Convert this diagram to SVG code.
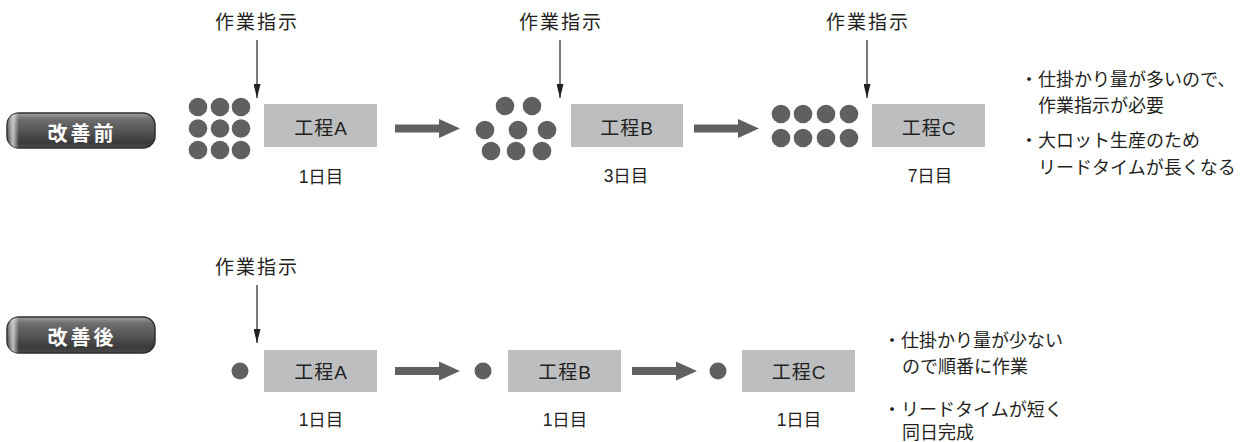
<svg xmlns="http://www.w3.org/2000/svg" width="1243" height="442" viewBox="0 0 1243 442">
  <defs>
    <style>
      text { font-family: 'Liberation Sans', 'Noto Sans CJK JP', sans-serif; fill: #231f20; }
      .lbl { font-size: 19px; letter-spacing: 2px; text-anchor: middle; }
      .box { fill: #bcbec0; }
      .boxtxt { font-size: 19px; letter-spacing: 1px; text-anchor: middle; }
      .day { font-size: 17.5px; text-anchor: middle; }
      .dot { fill: #606060; }
      .note { font-size: 18px; }
      .btntxt { font-size: 20px; font-weight: bold; fill: #ffffff; letter-spacing: 3px; text-anchor: middle; }
      .vline { stroke: #231f20; stroke-width: 1.2; fill: none; }
      .bigarrow { fill: #606060; }
    </style>
    <marker id="ah" markerUnits="userSpaceOnUse" markerWidth="14" markerHeight="7" refX="14" refY="3.5" orient="auto" viewBox="0 0 14 7">
      <path d="M0,0 L14,3.5 L0,7 Z" fill="#231f20"/>
    </marker>
    <linearGradient id="btnV" x1="0" y1="0" x2="0" y2="1">
      <stop offset="0" stop-color="#a0a0a0"/>
      <stop offset="0.18" stop-color="#6e6e6e"/>
      <stop offset="0.55" stop-color="#525252"/>
      <stop offset="0.85" stop-color="#3a3a3a"/>
      <stop offset="1" stop-color="#4a4a4a"/>
    </linearGradient>
    <linearGradient id="btnH" x1="0" y1="0" x2="1" y2="0">
      <stop offset="0" stop-color="#ffffff" stop-opacity="0"/>
      <stop offset="0.04" stop-color="#e8e8e8" stop-opacity="0.75"/>
      <stop offset="0.08" stop-color="#ffffff" stop-opacity="0"/>
      <stop offset="1" stop-color="#ffffff" stop-opacity="0"/>
    </linearGradient>
    <path id="bigArrowShape" d="M0,-4 L44,-4 L44,-9.5 L65,0 L44,9.5 L44,4 L0,4 Z"/>
  </defs>

  <rect x="0" y="0" width="1243" height="442" fill="#ffffff"/>

  <!-- Buttons -->
  <g id="btn-before">
    <rect x="7" y="113" width="148" height="35" rx="12" ry="12" fill="url(#btnV)" stroke="#2e2e2e" stroke-width="1.5"/>
    <rect x="7" y="113" width="148" height="35" rx="12" ry="12" fill="url(#btnH)"/>
    <text class="btntxt" x="82" y="140.5">改善前</text>
  </g>
  <g id="btn-after">
    <rect x="7" y="317" width="148" height="36" rx="12" ry="12" fill="url(#btnV)" stroke="#2e2e2e" stroke-width="1.5"/>
    <rect x="7" y="317" width="148" height="36" rx="12" ry="12" fill="url(#btnH)"/>
    <text class="btntxt" x="82" y="344.5">改善後</text>
  </g>

  <!-- Instruction labels -->
  <g id="instr-top-a"><text class="lbl" x="257" y="29">作業指示</text></g>
  <g id="instr-top-b"><text class="lbl" x="561" y="29">作業指示</text></g>
  <g id="instr-top-c"><text class="lbl" x="868" y="29">作業指示</text></g>
  <g id="instr-bot-a"><text class="lbl" x="257" y="274">作業指示</text></g>

  <!-- Top row WIP dots -->
  <g id="wip-top-a">
    <circle class="dot" cx="198" cy="107" r="9.3"/>
    <circle class="dot" cx="220" cy="107" r="9.3"/>
    <circle class="dot" cx="241" cy="107" r="9.3"/>
    <circle class="dot" cx="198" cy="128.5" r="9.3"/>
    <circle class="dot" cx="220" cy="128.5" r="9.3"/>
    <circle class="dot" cx="241" cy="128.5" r="9.3"/>
    <circle class="dot" cx="198" cy="150" r="9.3"/>
    <circle class="dot" cx="220" cy="150" r="9.3"/>
    <circle class="dot" cx="241" cy="150" r="9.3"/>
  </g>
  <g id="wip-top-b">
    <circle class="dot" cx="505" cy="106" r="9.3"/>
    <circle class="dot" cx="532" cy="106" r="9.3"/>
    <circle class="dot" cx="485" cy="130" r="9.3"/>
    <circle class="dot" cx="518" cy="130" r="9.3"/>
    <circle class="dot" cx="547" cy="130" r="9.3"/>
    <circle class="dot" cx="491" cy="151" r="9.3"/>
    <circle class="dot" cx="516" cy="151" r="9.3"/>
    <circle class="dot" cx="542" cy="151" r="9.3"/>
  </g>
  <g id="wip-top-c">
    <circle class="dot" cx="781" cy="114" r="9.3"/>
    <circle class="dot" cx="803" cy="114" r="9.3"/>
    <circle class="dot" cx="826" cy="114" r="9.3"/>
    <circle class="dot" cx="849" cy="114" r="9.3"/>
    <circle class="dot" cx="781" cy="138" r="9.3"/>
    <circle class="dot" cx="803" cy="138" r="9.3"/>
    <circle class="dot" cx="826" cy="138" r="9.3"/>
    <circle class="dot" cx="849" cy="138" r="9.3"/>
  </g>

  <!-- Top row process boxes -->
  <g id="proc-top-a">
    <rect class="box" x="264" y="104" width="113" height="43"/>
    <text class="boxtxt" x="321" y="135">工程A</text>
    <text class="day" x="321" y="183">1日目</text>
  </g>
  <g id="proc-top-b">
    <rect class="box" x="571" y="104" width="112" height="43"/>
    <text class="boxtxt" x="627" y="135">工程B</text>
    <text class="day" x="626" y="182">3日目</text>
  </g>
  <g id="proc-top-c">
    <rect class="box" x="872" y="104" width="113" height="43"/>
    <text class="boxtxt" x="929" y="135">工程C</text>
    <text class="day" x="930" y="182">7日目</text>
  </g>

  <!-- Bottom row -->
  <g id="wip-bot-a"><circle class="dot" cx="240" cy="371" r="8.5"/></g>
  <g id="wip-bot-b"><circle class="dot" cx="483" cy="371" r="8.5"/></g>
  <g id="wip-bot-c"><circle class="dot" cx="718" cy="371" r="8.5"/></g>

  <g id="proc-bot-a">
    <rect class="box" x="264" y="350" width="113" height="42"/>
    <text class="boxtxt" x="321" y="379">工程A</text>
    <text class="day" x="321" y="426">1日目</text>
  </g>
  <g id="proc-bot-b">
    <rect class="box" x="508" y="350" width="113" height="42"/>
    <text class="boxtxt" x="565" y="379">工程B</text>
    <text class="day" x="565" y="426">1日目</text>
  </g>
  <g id="proc-bot-c">
    <rect class="box" x="742" y="350" width="113" height="42"/>
    <text class="boxtxt" x="799" y="379">工程C</text>
    <text class="day" x="799" y="426">1日目</text>
  </g>

  <!-- Notes -->
  <g id="note-top">
    <text class="note" y="86"><tspan x="1020">・</tspan><tspan x="1038">仕掛かり量が多いので、</tspan></text>
    <text class="note" x="1038" y="112">作業指示が必要</text>
    <text class="note" y="147"><tspan x="1020">・</tspan><tspan x="1038">大ロット生産のため</tspan></text>
    <text class="note" x="1038" y="174">リードタイムが長くなる</text>
  </g>
  <g id="note-bottom">
    <text class="note" y="347"><tspan x="883">・</tspan><tspan x="901">仕掛かり量が少ない</tspan></text>
    <text class="note" x="902" y="373">ので順番に作業</text>
    <text class="note" y="416"><tspan x="883">・</tspan><tspan x="901">リードタイムが短く</tspan></text>
    <text class="note" x="902" y="439">同日完成</text>
  </g>

  <!-- Connectors -->
  <g id="connectors">
    <line class="vline" x1="257" y1="40" x2="257" y2="98" marker-end="url(#ah)"/>
    <line class="vline" x1="560" y1="40" x2="560" y2="98" marker-end="url(#ah)"/>
    <line class="vline" x1="867" y1="40" x2="867" y2="98" marker-end="url(#ah)"/>
    <line class="vline" x1="257" y1="285" x2="257" y2="343" marker-end="url(#ah)"/>
    <use href="#bigArrowShape" class="bigarrow" transform="translate(395,128.5)"/>
    <use href="#bigArrowShape" class="bigarrow" transform="translate(694,128.5)"/>
    <use href="#bigArrowShape" class="bigarrow" transform="translate(395,371)"/>
    <use href="#bigArrowShape" class="bigarrow" transform="translate(632,371)"/>
  </g>
</svg>
